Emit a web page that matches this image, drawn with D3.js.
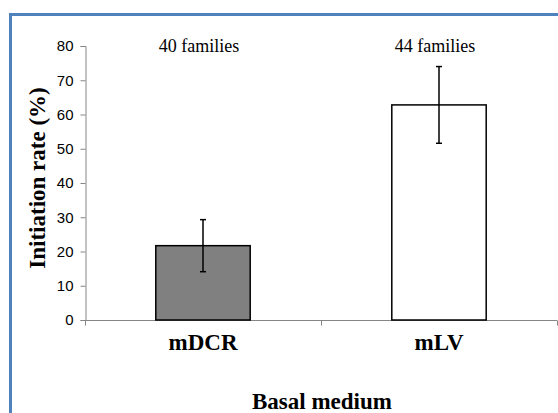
<!DOCTYPE html>
<html>
<head>
<meta charset="utf-8">
<script src="https://cdn.jsdelivr.net/npm/d3@7"></script>
<style>
  body { margin: 0; background: #fff; }
  svg { display: block; }
</style>
</head>
<body>
<div id="chart"></div>
<script>
// data
const categories = ["mDCR", "mLV"];
const rates = [21.7, 62.8];
const errors = [7.6, 11.2];
const familyLabels = ["40 families", "44 families"];
const yTicks = [0, 10, 20, 30, 40, 50, 60, 70, 80];
const barColors = ["#808080", "#ffffff"];

const width = 558, height = 413;
const margin = { left: 85, right: 1, top: 46, bottom: 93 };

const svg = d3.select("#chart").append("svg")
  .attr("width", width)
  .attr("height", height);

// blue frame, runs off the right and bottom edges
svg.append("rect")
  .attr("x", 10.5).attr("y", 14.5)
  .attr("width", 700).attr("height", 600)
  .attr("fill", "none")
  .attr("stroke", "#4f81bd")
  .attr("stroke-width", 3);

const x = d3.scaleBand()
  .domain(categories)
  .range([margin.left, width - margin.right])
  .paddingInner(0.6)
  .paddingOuter(0.3);

// band edges for the tick marks between categories
const step = (width - margin.right - margin.left) / categories.length;

const y = d3.scaleLinear()
  .domain([0, 80])
  .range([height - margin.bottom, margin.top]);

const axisColor = "#868686";

// y axis
const yAxis = svg.append("g")
  .attr("transform", `translate(${margin.left + 0.5},0)`)
  .call(d3.axisLeft(y).tickValues(yTicks).tickSize(5).tickPadding(7));
yAxis.select(".domain").attr("stroke", axisColor);
yAxis.selectAll(".tick line").attr("stroke", axisColor);
yAxis.selectAll(".tick text")
  .attr("fill", "#000")
  .style("font", "15px 'Liberation Sans', Arial, sans-serif");

// x axis line with ticks at band boundaries
const x0 = y(0) + 0.5;
svg.append("line")
  .attr("x1", margin.left).attr("x2", width - margin.right)
  .attr("y1", x0).attr("y2", x0)
  .attr("stroke", axisColor);
svg.selectAll(".xtick")
  .data(d3.range(categories.length + 1))
  .enter().append("line")
  .attr("class", "xtick")
  .attr("x1", i => margin.left + 0.5 + i * step)
  .attr("x2", i => margin.left + 0.5 + i * step)
  .attr("y1", x0).attr("y2", x0 + 5)
  .attr("stroke", axisColor);

// bars
svg.selectAll(".bar")
  .data(categories)
  .enter().append("rect")
  .attr("class", "bar")
  .attr("x", d => x(d))
  .attr("y", (d, i) => y(rates[i]))
  .attr("width", x.bandwidth())
  .attr("height", (d, i) => y(0) - y(rates[i]))
  .attr("fill", (d, i) => barColors[i])
  .attr("stroke", "#000")
  .attr("stroke-width", 1.5);

// error bars
const err = svg.selectAll(".err")
  .data(categories)
  .enter().append("g")
  .attr("class", "err")
  .attr("stroke", "#000")
  .attr("stroke-width", 1.5);
const cx = d => x(d) + x.bandwidth() / 2;
err.append("line")
  .attr("x1", cx).attr("x2", cx)
  .attr("y1", (d, i) => y(rates[i] + errors[i]))
  .attr("y2", (d, i) => y(rates[i] - errors[i]));
err.append("line")
  .attr("x1", d => cx(d) - 3).attr("x2", d => cx(d) + 3)
  .attr("y1", (d, i) => y(rates[i] + errors[i]))
  .attr("y2", (d, i) => y(rates[i] + errors[i]));
err.append("line")
  .attr("x1", d => cx(d) - 3).attr("x2", d => cx(d) + 3)
  .attr("y1", (d, i) => y(rates[i] - errors[i]))
  .attr("y2", (d, i) => y(rates[i] - errors[i]));

const serif = "'Liberation Serif', 'Times New Roman', serif";

// family counts above the bars
svg.selectAll(".fam")
  .data(familyLabels)
  .enter().append("text")
  .attr("class", "fam")
  .attr("x", (d, i) => cx(categories[i]) - 4)
  .attr("y", 52)
  .attr("text-anchor", "middle")
  .style("font", `18px ${serif}`)
  .text(d => d);

// category labels
svg.selectAll(".cat")
  .data(categories)
  .enter().append("text")
  .attr("class", "cat")
  .attr("x", d => cx(d))
  .attr("y", 350)
  .attr("text-anchor", "middle")
  .style("font", `bold 23px ${serif}`)
  .text(d => d);

// axis titles
svg.append("text")
  .attr("x", 322).attr("y", 409)
  .attr("text-anchor", "middle")
  .style("font", `bold 23px ${serif}`)
  .text("Basal medium");

svg.append("text")
  .attr("transform", "translate(45,178) rotate(-90)")
  .attr("text-anchor", "middle")
  .style("font", `bold 23px ${serif}`)
  .text("Initiation rate (%)");
</script>
</body>
</html>
